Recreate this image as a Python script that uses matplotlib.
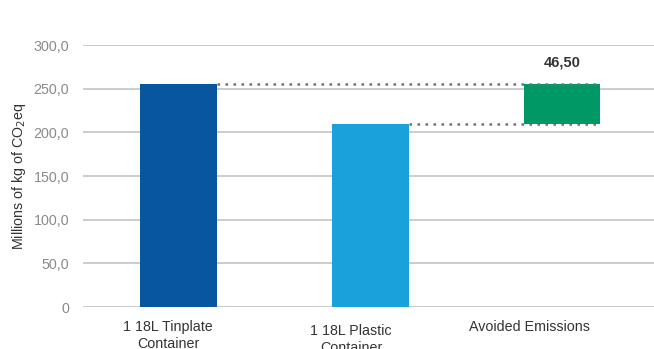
import matplotlib
matplotlib.use('Agg')

import matplotlib.pyplot as plt
import matplotlib.transforms as mtransforms

plt.rcParams['font.family'] = ['Liberation Sans', 'DejaVu Sans']

# emissions in millions of kg CO2eq
categories = ["1 18L Tinplate\nContainer", "1 18L Plastic\nContainer", "Avoided Emissions"]
tinplate = 255.9
plastic = 209.4
avoided = 46.5
avoided_label = "46,50"
yticks = [0, 50, 100, 150, 200, 250, 300]
ytick_labels = ["0", "50,0", "100,0", "150,0", "200,0", "250,0", "300,0"]

colors = ["#07569e", "#1aa0da", "#009966"]

fig = plt.figure(figsize=(6.54, 3.49), dpi=100)
ax = fig.add_axes([0.127, 0.1203, 0.873, 0.7507])

w = 0.4
ax.bar(0, tinplate, width=w, color=colors[0], zorder=3)
ax.bar(1, plastic, width=w, color=colors[1], zorder=3)
ax.bar(2, avoided, bottom=plastic, width=w, color=colors[2], zorder=3)

# dotted connectors
ax.plot([w / 2, 2 + w / 2], [tinplate, tinplate], linestyle=(0, (1, 2.2)),
        color="#6e6e6e", linewidth=1.8, zorder=4)
ax.plot([1 + w / 2, 2 + w / 2], [plastic, plastic], linestyle=(0, (1, 2.2)),
        color="#6e6e6e", linewidth=1.8, zorder=4)

ax.text(2, tinplate + 24, avoided_label, ha="center", va="center",
        fontsize=10.5, fontweight="bold", color="#333333")

ax.set_xlim(-0.497, 2.48)
ax.set_ylim(0, 300)
ax.set_yticks(yticks)
ax.set_yticklabels(ytick_labels)
ax.set_xticks(range(3))
ax.set_xticklabels(categories, linespacing=1.3)

ax.yaxis.grid(True, color="#c4c4c4", linewidth=1.2, zorder=0)
ax.set_axisbelow(True)
for s in ax.spines.values():
    s.set_visible(False)
ax.tick_params(axis="y", length=0, pad=10, labelsize=10.3, labelcolor="#8a8a8a")
ax.tick_params(axis="x", length=0, pad=9, labelsize=10.3, labelcolor="#333333")

# category labels sit left of their bars, the plastic one a bit lower
shifts = [(-10, 0), (-19, -4), (-33, 0)]
for lbl, (dx, dy) in zip(ax.get_xticklabels(), shifts):
    lbl.set_transform(lbl.get_transform() +
                      mtransforms.ScaledTranslation(dx / 100, dy / 100, fig.dpi_scale_trans))

ax.set_ylabel("Millions of kg of CO$_2$eq", fontsize=10.3, color="#333333", labelpad=4)

fig.savefig("out.png", dpi=100)
